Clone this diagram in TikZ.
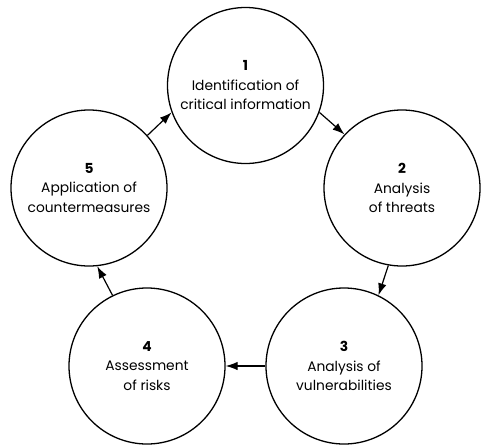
\documentclass[tikz,border=0pt]{standalone}
\usepackage{fontspec}
\setmainfont{Poppins}
\usetikzlibrary{arrows.meta}
\tikzset{arrow/.style={-{Latex[length=12pt,width=8.5pt]}, line width=1.2pt}}
\tikzset{stage/.style={circle, draw, line width=1.3pt, minimum size=156pt, inner sep=0pt, align=center, font=\fontsize{13.8}{19.5}\selectfont}}

\begin{document}
\begin{tikzpicture}[x=1pt,y=-1pt]
      \useasboundingbox (0,0) rectangle (500,447);

      \node[stage] (S1) at (245.5, 85.5) {\textbf{1}\\Identification of\\critical information};
      \node[stage] (S2) at (402, 188) {\textbf{2}\\Analysis\\of threats};
      \node[stage] (S3) at (344, 366) {\textbf{3}\\Analysis of\\vulnerabilities};
      \node[stage] (S4) at (147, 366) {\textbf{4}\\Assessment\\of risks};
      \node[stage] (S5) at (89, 188) {\textbf{5}\\Application of\\countermeasures};

      \draw[arrow] (S1.-20) -- (S2.137);
      \draw[arrow] (S2.-100) -- (S3.64);
      \draw[arrow] (S3.west) -- (S4.east);
      \draw[arrow] (S4.116) -- (S5.-84);
      \draw[arrow] (S5.42) -- (S1.200);
    \end{tikzpicture}
\end{document}
